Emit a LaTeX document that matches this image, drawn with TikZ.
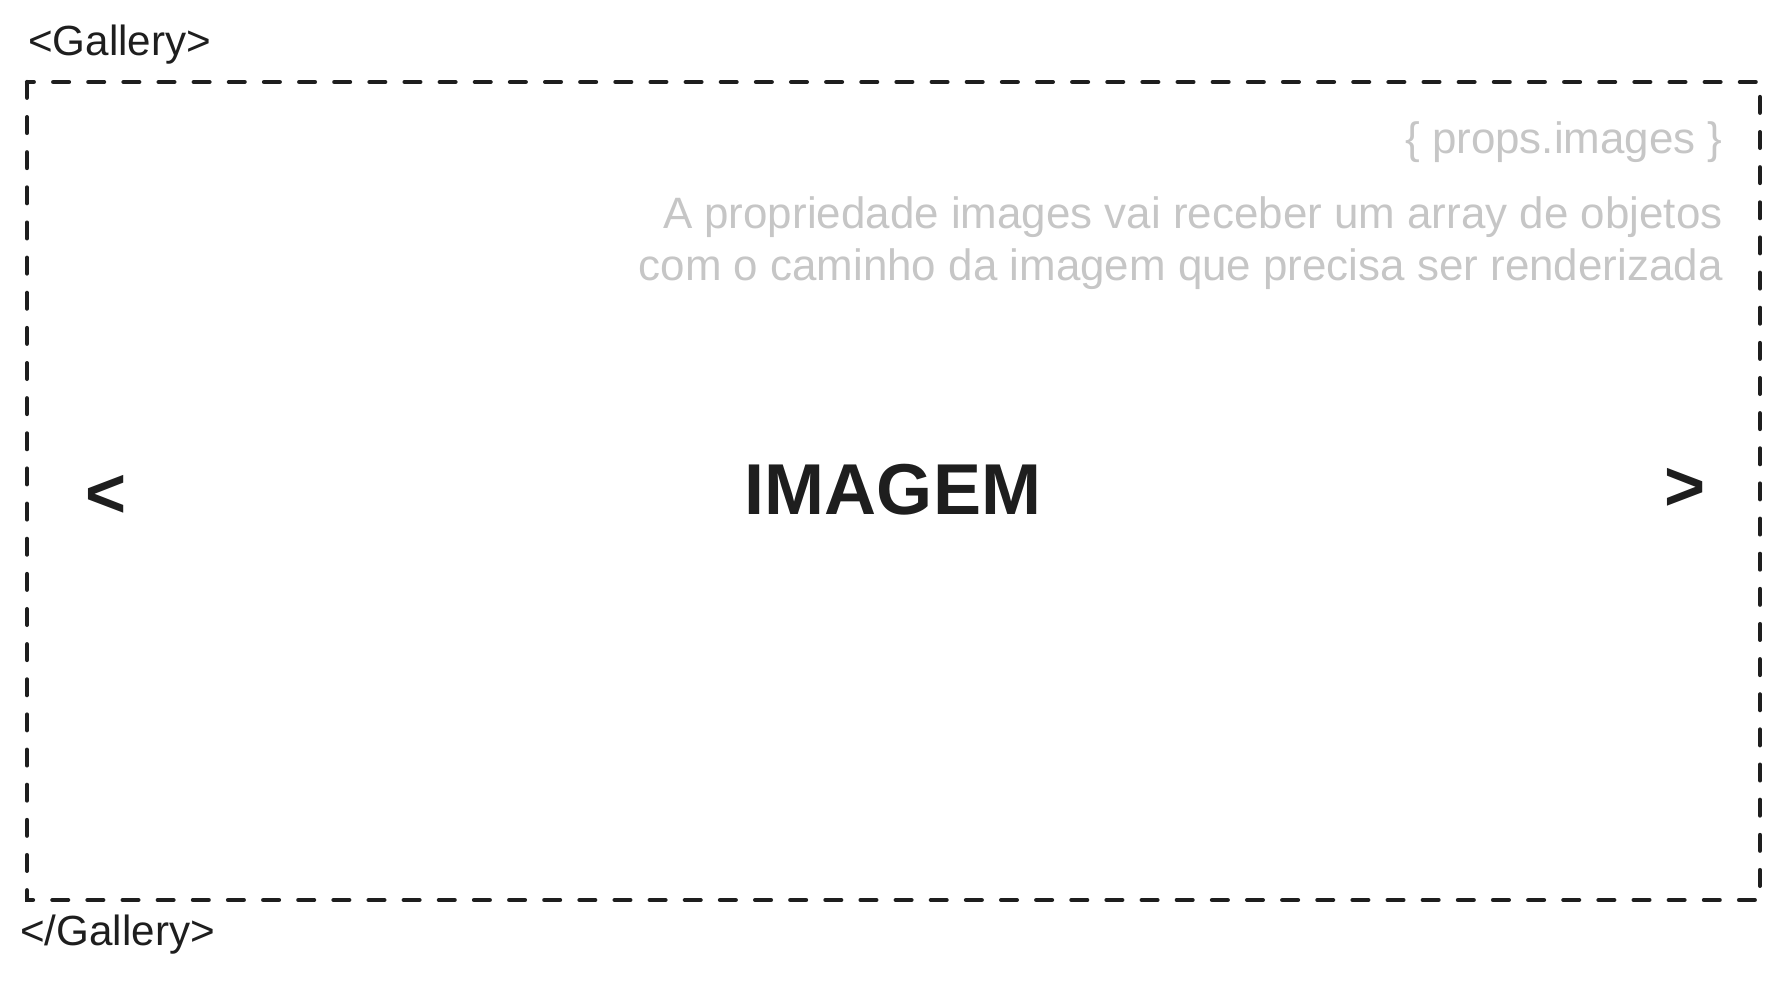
\documentclass[tikz,border=0pt]{standalone}
\usepackage{fontspec}
\setmainfont{Liberation Sans}
\definecolor{tinta}{HTML}{1E1E1E}
\definecolor{cinza}{HTML}{C6C6C6}
\begin{document}
\begin{tikzpicture}[x=0.02cm, y=-0.02cm,
  tag/.style={font=\fontsize{24}{28}\selectfont, text=tinta, inner sep=0pt},
  nota/.style={font=\fontsize{25}{29.5}\selectfont, text=cinza, align=right, inner sep=0pt},
  seta/.style={font=\fontsize{40}{40}\selectfont\bfseries, text=tinta, inner sep=0pt},
  titulo/.style={font=\fontsize{41}{41}\selectfont\bfseries, text=tinta, inner sep=0pt}]
\useasboundingbox (0,0) rectangle (1780,982); % tamanho da figura
\draw[tinta, line width=2.4pt, line cap=round, dash pattern=on 9pt off 11pt]
  (27,82) rectangle (1760,900); % moldura tracejada
\node[tag, anchor=west] (abre) at (28,45) {<Gallery>};
\node[tag, anchor=west] (fecha) at (20,935) {</Gallery>};
\node[nota, anchor=east] (props) at (1723,142) {\{ props.images \}};
\node[nota, anchor=north east] (texto) at (1723,196)
  {A propriedade images vai receber um array de objetos\\
   com o caminho da imagem que precisa ser renderizada};
\node[seta] (anterior) at (106,496) {<}; % seta esquerda
\node[seta] (proxima) at (1685,489) {>}; % seta direita
\node[titulo] (imagem) at (893,490) {IMAGEM};
\end{tikzpicture}
\end{document}
